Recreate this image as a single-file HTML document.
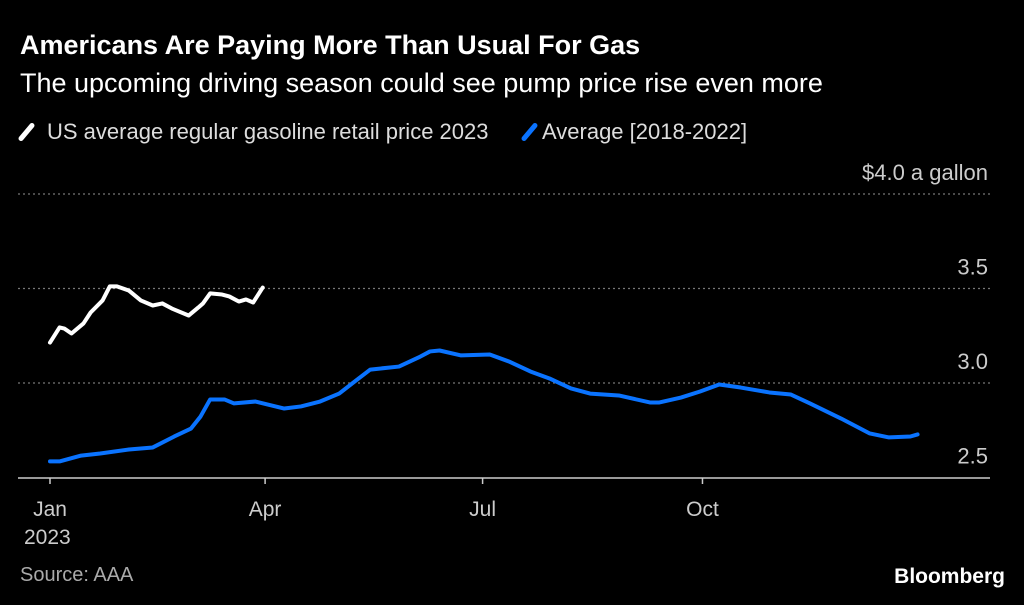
<!DOCTYPE html>
<html><head><meta charset="utf-8"><style>
body{margin:0;background:#000;width:1024px;height:605px;overflow:hidden;font-family:"Liberation Sans",sans-serif;color:#fff}
.t{position:absolute;white-space:nowrap}
</style></head><body>
<div class="t" style="left:20px;top:30px;font-size:27px;font-weight:bold">Americans Are Paying More Than Usual For Gas</div>
<div class="t" style="left:20px;top:68px;font-size:27px">The upcoming driving season could see pump price rise even more</div>
<div class="t" style="left:24px;top:119px;font-size:22px;color:#ddd"><span style="display:inline-block;width:5px;height:22px;background:#fff;transform:rotate(40deg);vertical-align:-4px;margin-right:18px;border-radius:3px"></span>US average regular gasoline retail price 2023</div>
<div class="t" style="left:527px;top:119px;font-size:22px;color:#ddd"><span style="display:inline-block;width:5px;height:22px;background:#0a73ff;transform:rotate(40deg);vertical-align:-4px;margin-right:10px;border-radius:3px"></span>Average [2018-2022]</div>
<svg id="chart" width="1024" height="605" style="position:absolute;left:0;top:0"></svg>
<div class="t" style="left:20px;top:564px;font-size:20px;color:#aaa">Source: AAA</div>
<div class="t" style="right:19px;top:565px;font-size:21px;font-weight:bold">Bloomberg</div>
<script>
const yTicks=[2.5,3.0,3.5,4.0];
const yTickLabels=["2.5","3.0","3.5","$4.0 a gallon"];
const xTickDays=[0,90,181,273];
const xTickLabels=["Jan","Apr","Jul","Oct"];
const days2023=[0,4,6,9,14,17,22,25,28,33,38,43,47,51,58,62,64,67,72,75,79,82,85,89];
const values2023=[3.214,3.294,3.288,3.262,3.315,3.373,3.437,3.511,3.511,3.489,3.437,3.410,3.421,3.394,3.357,3.399,3.421,3.474,3.468,3.458,3.431,3.442,3.426,3.505];
const daysAvg=[0,4,13,21,33,43,52,59,63,67,73,77,86,98,105,113,121,128,134,146,155,159,163,172,184,192,201,209,218,226,238,251,255,264,272,280,289,301,310,318,331,343,351,360,363];
const valuesAvg=[2.585,2.585,2.616,2.627,2.648,2.659,2.717,2.759,2.823,2.913,2.913,2.892,2.902,2.865,2.876,2.902,2.944,3.013,3.071,3.087,3.140,3.167,3.172,3.146,3.151,3.114,3.061,3.024,2.971,2.944,2.934,2.897,2.897,2.923,2.955,2.992,2.976,2.950,2.939,2.892,2.812,2.733,2.712,2.717,2.728];
const X=d=>50+d*2.39;
const Y=v=>477.5-(v-2.5)*189;
const svg=document.getElementById('chart');
const NS='http://www.w3.org/2000/svg';
function mk(t,a){const e=document.createElementNS(NS,t);for(const k in a)e.setAttribute(k,a[k]);svg.appendChild(e);return e;}
yTicks.forEach((v,i)=>{
  if(i>0){const g=mk('line',{x1:18,x2:990,y1:Y(v),y2:Y(v),stroke:'#777','stroke-width':1.2,'stroke-dasharray':'2,3'});
  
  }
  const t=mk('text',{x:988,y:Y(v)-14,'text-anchor':'end',fill:'#ccc','font-size':22,'font-family':'Liberation Sans, sans-serif'});
  t.textContent=yTickLabels[i];
  
  
});
const ax=mk('line',{x1:18,x2:990,y1:478,y2:478,stroke:'#ccc','stroke-width':1.5});


xTickDays.forEach((d,i)=>{
  const tk=mk('line',{x1:X(d),x2:X(d),y1:478,y2:484,stroke:'#ccc','stroke-width':1.5});
  
  
  const t=mk('text',{x:X(d),y:516,'text-anchor':'middle',fill:'#ccc','font-size':21,'font-family':'Liberation Sans, sans-serif'});
  t.textContent=xTickLabels[i];
  
  
});
const yr=mk('text',{x:24,y:544,fill:'#ccc','font-size':21,'font-family':'Liberation Sans, sans-serif'});
yr.textContent='2023';


function line(ds,vs,c,n){
  const p=mk('polyline',{points:ds.map((d,i)=>X(d)+','+Y(vs[i])).join(' '),fill:'none',stroke:c,'stroke-width':4,'stroke-linejoin':'round','stroke-linecap':'round'});
  
  
}
line(daysAvg,valuesAvg,'#0a73ff','average-2018-2022-line');
line(days2023,values2023,'#fff','price-2023-line');
</script>
</body></html>
